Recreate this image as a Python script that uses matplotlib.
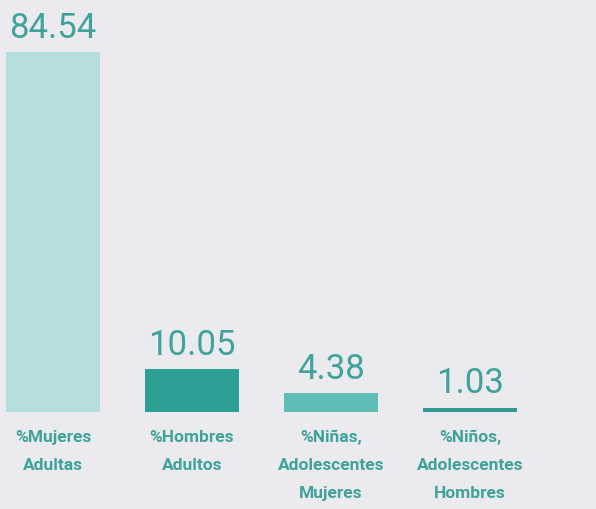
import matplotlib
matplotlib.use("Agg")
import matplotlib.pyplot as plt

categories = ["%Mujeres\nAdultas", "%Hombres\nAdultos",
              "%Niñas,\nAdolescentes\nMujeres", "%Niños,\nAdolescentes\nHombres"]
values = [84.54, 10.05, 4.38, 1.03]
value_labels = ["84.54", "10.05", "4.38", "1.03"]

bar_colors = ["#b5dedc", "#2da095", "#5ebdb5", "#2e9a91"]
bg = "#ebeaee"
text_color = "#3fa39b"
fam = ["Roboto", "DejaVu Sans"]

fig = plt.figure(figsize=(5.96, 5.10), dpi=100, facecolor=bg)
ax = fig.add_axes([0, 0, 1, 1])
ax.set_facecolor(bg)

x = list(range(len(values)))
ax.bar(x, values, width=0.676, color=bar_colors)
ax.set_xlim(-0.381, 3.906)
ax.set_ylim(-22.77, 96.95)
ax.axis("off")

for xi, v, lab in zip(x, values, value_labels):
    ax.annotate(lab, (xi, v), xytext=(0, 6), textcoords="offset points",
                ha="center", va="bottom", fontsize=25, color=text_color,
                family=fam)

for xi, cat in zip(x, categories):
    ax.annotate(cat, (xi, 0), xytext=(0, -12), textcoords="offset points",
                ha="center", va="top", fontsize=12.5, color=text_color,
                fontweight="bold", family=fam, linespacing=2.1)

fig.savefig("out.png", dpi=100, facecolor=bg)
